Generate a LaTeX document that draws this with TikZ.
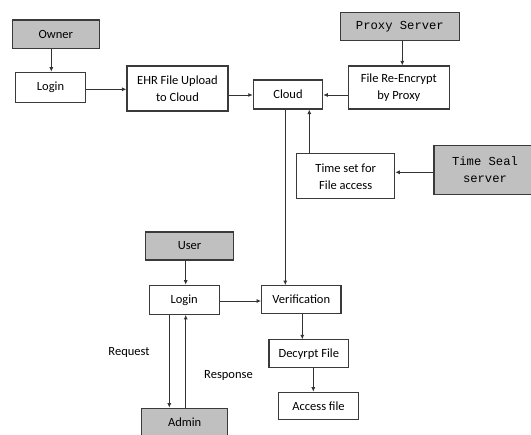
\documentclass[tikz,border=0pt]{standalone}
\usepackage{fontspec}
\setmainfont{Carlito}
\newfontfamily\courierfont{Liberation Mono}
\usetikzlibrary{arrows.meta}
\definecolor{boxgray}{HTML}{C0C0C0}
\definecolor{edgegray}{HTML}{3A3A3A}
\tikzset{
  box/.style={draw=edgegray, line width=1.1pt, fill=white, inner sep=0pt, align=center,
    font=\fontsize{12.5}{17}\selectfont},
  actor/.style={box, fill=boxgray},
  monoactor/.style={actor, font=\courierfont\fontsize{12.2}{16.5}\selectfont},
  flow/.style={draw=black!80, line width=0.9pt, -{Latex[length=4.5pt,width=4pt]}},
  lbl/.style={font=\fontsize{12.5}{15}\selectfont, inner sep=0pt}
}
\begin{document}
\begin{tikzpicture}[x=1pt,y=-1pt]
\useasboundingbox (0,0) rectangle (531,435);
\clip (0,0) rectangle (531,435);
\fill[white] (0,0) rectangle (531,435);
% nodes
\node[actor, minimum width=87pt, minimum height=28.3pt] (owner) at (55.8,34.2) {Owner};
\node[box, minimum width=70.4pt, minimum height=30.4pt] (login1) at (50.5,87.5) {Login};
\node[box, minimum width=101pt, minimum height=45pt] (ehr) at (177.5,88.5) {EHR File Upload\\to Cloud};
\node[box, minimum width=69.4pt, minimum height=29pt] (cloud) at (288,94.5) {Cloud};
\node[monoactor, minimum width=118.3pt, minimum height=28.4pt] (proxy) at (399.9,26.5) {Proxy Server};
\node[box, minimum width=101pt, minimum height=43pt] (reenc) at (398.8,87.5) {File Re-Encrypt\\by Proxy};
\node[box, minimum width=98pt, minimum height=45.3pt] (timeset) at (345.7,176.3) {Time set for\\File access};
\node[monoactor, minimum width=102pt, minimum height=49pt] (timeseal) at (485,169.8) {Time Seal\\server};
\node[actor, minimum width=87.6pt, minimum height=28pt] (user) at (189.5,246) {User};
\node[box, minimum width=69.7pt, minimum height=29pt] (login2) at (184.2,299.8) {Login};
\node[box, minimum width=79.3pt, minimum height=27.6pt] (verif) at (301.3,299.5) {Verification};
\node[box, minimum width=79.7pt, minimum height=27.7pt] (decrypt) at (308.8,353.8) {Decyrpt File};
\node[box, minimum width=79.6pt, minimum height=27pt] (access) at (318.5,405.8) {Access file};
\node[actor, minimum width=86pt, minimum height=28pt] (admin) at (184.7,422.3) {Admin};
\node[lbl] (req) at (129,352.5) {Request};
\node[lbl] (resp) at (228.5,375.5) {Response};
% connectors
\draw[flow] (owner.south -| 51.3,0) -- (login1.north -| 51.3,0);
\draw[flow] (login1.east |- 0,89.3) -- (ehr.west |- 0,89.3);
\draw[flow] (ehr.east |- 0,95) -- (cloud.west |- 0,95);
\draw[flow] (proxy.south -| 402.3,0) -- (reenc.north -| 402.3,0);
\draw[flow] (reenc.west |- 0,95) -- (cloud.east |- 0,95);
\draw[flow] (timeset.north -| 309.3,0) -- (cloud.south -| 309.3,0);
\draw[flow] (timeseal.west |- 0,172.3) -- (timeset.east |- 0,172.3);
\draw[flow] (cloud.south -| 285.3,0) -- (verif.north -| 285.3,0);
\draw[flow] (user.south -| 185.7,0) -- (login2.north -| 185.7,0);
\draw[flow] (login2.east |- 0,301) -- (verif.west |- 0,301);
\draw[flow] (login2.south -| 169.3,0) -- (admin.north -| 169.3,0);
\draw[flow] (admin.north -| 185.7,0) -- (login2.south -| 185.7,0);
\draw[flow] (verif.south -| 302.3,0) -- (decrypt.north -| 302.3,0);
\draw[flow] (decrypt.south -| 313.3,0) -- (access.north -| 313.3,0);
\end{tikzpicture}
\end{document}
